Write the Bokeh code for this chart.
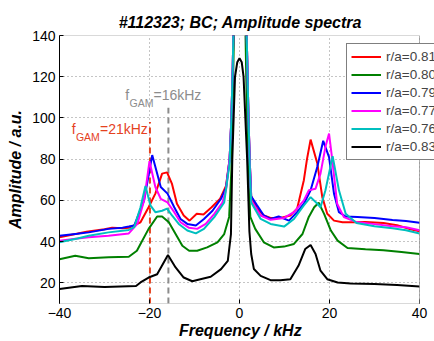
from bokeh.plotting import figure
from bokeh.models import (Legend, LegendItem, Label, FixedTicker, Range1d, BoxAnnotation)
from bokeh.embed import file_html
from bokeh.resources import INLINE

# ---------------- data ----------------
x_ticks = [-40, -20, 0, 20, 40]
x_tick_labels = ["\u221240", "\u221220", "0", "20", "40"]
y_ticks = [20, 40, 60, 80, 100, 120, 140]

red_f = [-40, -37, -34, -32, -30, -28.3, -26, -24.6, -22, -20.2, -18.7, -17.2, -16.1, -15, -13.9,
         -12.4, -11.1, -9.5, -8, -6.2, -4.3, -3, -2.2, -1.8, -1.5, -1.2, 0, 1.3, 1.7, 2.0, 2.3, 2.6,
         3.9, 5.4, 6.9, 9.1, 11.3, 12.8, 14.3, 15.0, 15.8, 17.3, 18.4, 19.5, 21, 22.9, 24.7, 28, 32,
         35, 38, 40]
red_v = [42.1, 43.5, 44.8, 45.4, 46, 46.7, 46.5, 46.7, 49.4, 56.7, 63.3, 73, 73.6, 68, 58.4,
         52.7, 50.2, 53.5, 53.2, 56.7, 60.8, 67, 80, 100, 125, 160, 300, 170, 130, 100, 78, 62,
         56, 52.7, 51.5, 51.5, 52.7, 56, 69.8, 80, 89.5, 77.9, 61.6, 53.5, 50.2, 49.4, 49.4, 49.5, 49,
         48, 46, 45]

green_f = [-40, -36.5, -33.5, -29.1, -24.6, -22.8, -22, -20.2, -18.3, -17.2, -15.7, -14.2, -12.7,
           -11.2, -9.4, -7.2, -4.9, -3.4, -2.3, -1.8, -1.4, -1.0, 0, 1.1, 1.5, 1.9, 2.4, 3.5, 5.4,
           7.6, 9.9, 12.1, 14, 15.4, 16.6, 17.6, 18.8, 20.3, 21.8, 24, 28, 32, 36, 40]
green_v = [31.5, 33.2, 32, 32.4, 32.7, 35.6, 38.9, 46.2, 52.2, 52.2, 49.4, 43.7, 38,
           35.6, 35.6, 37.2, 39.7, 43.7, 52, 75, 120, 170, 300, 170, 120, 75, 52, 46.2, 39.7,
           37.2, 37.6, 38.9, 43.7, 52, 56.7, 58.9, 53.5, 45.4, 40.5, 36.9, 36.3, 35.8, 35, 34]

blue_f = [-40, -36, -33.5, -29.1, -26, -24.6, -23.4, -21.2, -19.4, -17.5, -16, -14.5, -13.1, -11.6,
          -9.7, -7.9, -6, -4.1, -3, -2.2, -1.8, -1.5, -1.2, 0, 1.3, 1.7, 2.0, 2.3, 2.6, 3.9, 5.4,
          6.9, 8.7, 11, 12.8, 14.3, 15.8, 17.3, 18.6, 19.9, 21, 22.1, 23.6, 26.2, 30, 34, 37, 40]
blue_v = [42.9, 43.8, 44.5, 46.2, 46.8, 47.3, 47.8, 60, 82, 66.5, 63.3, 56.7, 51, 48.6,
          47.8, 51, 55, 60.8, 66, 80, 100, 125, 160, 300, 170, 130, 100, 78, 62, 57.6, 52.7,
          51, 52.2, 50.2, 54.3, 58.4, 64.9, 76.3, 88.9, 81, 63.3, 54.3, 52.2, 52, 51.5, 50.5, 50, 49.2]

magenta_f = [-40, -36, -33.5, -29.1, -24.6, -22.7, -21.2, -20.0, -18.7, -17.5, -16, -14.5, -13.1,
             -11.2, -9.4, -7.5, -5.6, -3.8, -3, -2.2, -1.8, -1.5, -1.2, 0, 1.3, 1.7, 2.0, 2.3, 2.6,
             4.7, 6.9, 9.9, 12.1, 14.3, 15.4, 16.9, 18, 19.1, 19.9, 20.6, 21.7, 23.2, 26, 30, 34,
             37, 40]
magenta_v = [40.5, 41.5, 42.1, 42.9, 44, 48.6, 60, 79, 66.5, 60.8, 59, 54.3, 49.4,
             46.7, 46.2, 48.6, 53.5, 59, 65, 80, 100, 125, 160, 300, 170, 130, 100, 78, 60,
             52.7, 50.6, 51.5, 54.3, 60, 64.9, 65.7, 73, 86, 92.4, 80, 58.4, 51.9, 49.5, 48.5, 47.5,
             47, 45.5]

cyan_f = [-40, -36, -33.5, -29.1, -24.6, -23.4, -22, -20.9, -19.8, -18.7, -17.2, -16.1, -15, -13.5,
          -11.6, -9.7, -7.9, -5.6, -3.4, -2.2, -1.8, -1.5, -1.2, 0, 1.3, 1.7, 2.0, 2.3, 2.6, 4.7,
          6.9, 9.9, 12.1, 14.3, 15.8, 17.3, 18, 19.1, 20.7, 22.1, 23.6, 26, 30, 34, 37, 40]
cyan_v = [39.7, 41.5, 42.9, 44.5, 45.7, 47, 56.7, 67, 57.6, 54.3, 55, 56, 52.7, 48.6,
          45.4, 44, 46.2, 51.9, 59, 78, 100, 125, 160, 300, 170, 130, 100, 76, 59, 51,
          48.6, 47.3, 51, 57.6, 61.6, 58.4, 56.7, 64.9, 81.5, 64.9, 53.5, 49, 47.5, 46.5, 45.5, 44]

black_f = [-40, -35, -30, -23, -22, -20.2, -18.3, -15.9, -14.2, -12.4, -10.5, -8.7, -6.4, -4.1,
           -2.6, -1.9, -1.6, -1.0, -0.5, 0, 0.5, 0.9, 1.7, 2.2, 2.6, 3.2, 4.7, 6.9, 9.1, 11.3,
           13.1, 14.6, 15.8, 16.9, 18, 19.5, 21.8, 24.7, 30, 35, 40]
black_v = [17, 18.5, 18, 18.5, 20.2, 22.6, 24.2, 33.5, 27.5, 22.6, 20.8, 21.8, 23, 26.7,
           30.7, 43.7, 80, 120, 127, 129, 127, 120, 80, 45, 34, 26.7, 23.4, 21.3, 21.3, 21.8,
           28.3, 36.4, 38.4, 34, 25.9, 21.8, 20.2, 19.7, 19.5, 19, 18.3]

series = [
    ("r/a=0.81", "#ff0000", red_f, red_v),
    ("r/a=0.80", "#008000", green_f, green_v),
    ("r/a=0.79", "#0000ff", blue_f, blue_v),
    ("r/a=0.77", "#ff00ff", magenta_f, magenta_v),
    ("r/a=0.76", "#00bfbf", cyan_f, cyan_v),
    ("r/a=0.83", "#000000", black_f, black_v),
]

# GAM marker lines (frequency, top value)
gam_red_f = -19.9
gam_red_top = 98
gam_grey_f = -15.8
gam_grey_top = 105

X_MIN, X_MAX = -40, 40
Y_MIN, Y_MAX = 10, 140
FONT = "Liberation Sans"
NB = "\u00a0"

# The axes box ends at x=40; the plotting area continues to the window edge so the
# legend (which overhangs the box in the original) is cut only by the window.
LEFT, RIGHT_PAD = 59, 15
W = 434
x_extra = RIGHT_PAD * (X_MAX - X_MIN) / (W - LEFT - RIGHT_PAD)

p = figure(width=W, height=341, x_range=Range1d(X_MIN, X_MAX + x_extra),
           y_range=Range1d(Y_MIN, Y_MAX),
           output_backend="svg", toolbar_location=None,
           min_border_left=LEFT, min_border_right=0, min_border_top=35, min_border_bottom=38,
           title="#112323; BC; Amplitude spectra" + NB * 3)
p.title.align = "center"
p.title.text_font = FONT
p.title.text_font_size = "16px"
p.title.text_font_style = "bold italic"
p.title.text_color = "black"

p.background_fill_color = "white"
p.border_fill_color = "white"
p.outline_line_color = None

for ax in (p.xaxis[0], p.yaxis[0]):
    ax.major_tick_in = 4
    ax.major_tick_out = 0
    ax.minor_tick_line_color = None
    ax.axis_line_color = "black"
    ax.major_tick_line_color = "black"
    ax.major_label_text_font = FONT
    ax.major_label_text_font_size = "14px"
    ax.major_label_text_color = "black"
    ax.axis_label_text_font = FONT
    ax.axis_label_text_font_size = "16px"
    ax.axis_label_text_font_style = "bold italic"
    ax.axis_label_text_color = "black"

p.xaxis[0].ticker = FixedTicker(ticks=x_ticks)
p.xaxis[0].major_label_overrides = {t: l for t, l in zip(x_ticks, x_tick_labels)}
p.xaxis[0].axis_label = "Frequency / kHz" + NB * 3
p.xaxis[0].axis_line_color = None
p.xaxis[0].major_label_standoff = 4
p.xaxis[0].axis_label_standoff = 1

p.yaxis[0].ticker = FixedTicker(ticks=y_ticks)
p.yaxis[0].axis_label = "Amplitude / a.u."
p.yaxis[0].major_label_standoff = 4
p.yaxis[0].axis_label_standoff = 5

p.xgrid.ticker = FixedTicker(ticks=x_ticks)
p.ygrid.ticker = FixedTicker(ticks=y_ticks)
for g in (p.xgrid[0], p.ygrid[0]):
    g.grid_line_color = "#8a8a8a"
    g.grid_line_dash = "1 3"
    g.grid_line_width = 1

# GAM dashed lines
p.line([gam_grey_f, gam_grey_f], [Y_MIN, gam_grey_top], line_color="#8c8c8c", line_width=2,
       line_dash="6 4")
p.line([gam_red_f, gam_red_f], [Y_MIN, gam_red_top], line_color="#e5421f", line_width=2,
       line_dash="6 4")

items = []
for name, col, f, v in series:
    r = p.line(f, v, line_color=col, line_width=2)
    items.append(LegendItem(label=name, renderers=[r]))

# white outside the axes box, then the box itself
p.add_layout(BoxAnnotation(left=X_MAX, fill_color="white", fill_alpha=1, line_color=None))
p.add_layout(BoxAnnotation(left=X_MIN, right=X_MAX, bottom=Y_MIN, top=Y_MAX,
                           fill_alpha=0, line_color="black", line_width=1))

# f_GAM labels
def gam_label(fx, yv, color, rest):
    p.add_layout(Label(x=fx, y=yv, text="f", text_color=color, text_font=FONT,
                       text_font_size="14px", text_baseline="middle", text_align="left"))
    p.add_layout(Label(x=fx, y=yv, x_offset=4.3, y_offset=-8, text="GAM", text_color=color,
                       text_font=FONT, text_font_size="10.5px", text_baseline="middle",
                       text_align="left"))
    p.add_layout(Label(x=fx, y=yv, x_offset=28.3, text=rest, text_color=color,
                       text_font=FONT, text_font_size="14px", text_baseline="middle",
                       text_align="left"))

gam_label(-37.3, 94.7, "#e5421f", "=21kHz")
gam_label(-25.4, 111, "#8c8c8c", "=16kHz")

legend = Legend(items=items, location=(287, 143.5), border_line_color="black",
                border_line_width=1, background_fill_color="white", background_fill_alpha=1,
                label_text_font=FONT, label_text_font_size="13.5px", padding=4, spacing=1,
                glyph_width=30, glyph_height=17, label_height=17, label_width=60,
                label_standoff=5, margin=0)
p.add_layout(legend)

open("out.html", "w").write(file_html(p, INLINE))
